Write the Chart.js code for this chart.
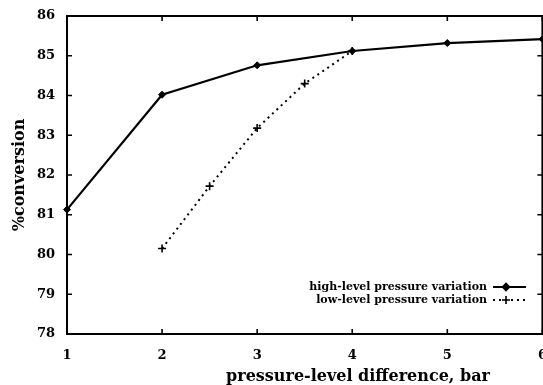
<!DOCTYPE html>
<html><head><meta charset="utf-8">
<script src="https://cdn.jsdelivr.net/npm/chart.js@4.4.0/dist/chart.umd.min.js"></script>
<style>html,body{margin:0;padding:0;background:#fff;overflow:hidden;}#wrap{width:543px;height:385px;overflow:hidden;}canvas{display:block;}</style>
</head><body><div id="wrap"><canvas id="c" width="548" height="385" style="width:548px;height:385px"></canvas></div>
<script>
const xTicks = [1, 2, 3, 4, 5, 6];
const yTicks = [78, 79, 80, 81, 82, 83, 84, 85, 86];
const highX = [1, 2, 3, 4, 5, 6];
const highY = [81.13, 84.02, 84.76, 85.12, 85.32, 85.42];
const lowX = [2, 2.5, 3, 3.5, 4];
const lowY = [80.15, 81.72, 83.18, 84.30, 85.12];
const seriesNames = ['high-level pressure variation', 'low-level pressure variation'];
const xTitle = 'pressure-level difference, bar';
const yTitle = '%conversion';

const FONT = '"DejaVu Serif", "Liberation Serif", serif';

function pts(xs, ys) { return xs.map((x, i) => ({x: x, y: ys[i]})); }

const framePlugin = {
  id: 'frame',
  afterDraw(chart) {
    const ctx = chart.ctx;
    const a = chart.chartArea;
    const xs = chart.scales.x, ys = chart.scales.y;
    ctx.save();
    ctx.strokeStyle = '#000';
    ctx.lineWidth = 2;
    ctx.strokeRect(a.left, a.top, a.right - a.left, a.bottom - a.top);
    ctx.lineWidth = 1.6;
    const tl = 5;
    ctx.beginPath();
    xTicks.forEach(v => {
      const px = xs.getPixelForValue(v);
      ctx.moveTo(px, a.bottom); ctx.lineTo(px, a.bottom - tl);
      ctx.moveTo(px, a.top); ctx.lineTo(px, a.top + tl);
    });
    yTicks.forEach(v => {
      const py = ys.getPixelForValue(v);
      ctx.moveTo(a.left, py); ctx.lineTo(a.left + tl, py);
      ctx.moveTo(a.right, py); ctx.lineTo(a.right - tl, py);
    });
    ctx.stroke();

    // titles
    ctx.fillStyle = '#000';
    ctx.font = 'bold 16px ' + FONT;
    ctx.textAlign = 'center';
    ctx.textBaseline = 'middle';
    ctx.fillText(xTitle, 358, 377);
    ctx.save();
    ctx.translate(20, (a.top + a.bottom) / 2);
    ctx.rotate(-Math.PI / 2);
    ctx.fillText(yTitle, 0, 0);
    ctx.restore();

    // legend
    ctx.font = 'bold 11px ' + FONT;
    ctx.textAlign = 'right';
    const rows = [287, 300];
    chart.data.datasets.forEach((ds, i) => {
      const y = rows[i];
      ctx.fillText(ds.label, 487, y);
      ctx.save();
      ctx.lineWidth = ds.borderWidth;
      ctx.setLineDash(ds.borderDash || []);
      ctx.beginPath(); ctx.moveTo(493, y); ctx.lineTo(526, y); ctx.stroke();
      ctx.restore();
      Chart.helpers.drawPoint(ctx, {pointStyle: ds.pointStyle, radius: ds.pointRadius, borderWidth: ds.pointBorderWidth, rotation: 0}, 506, y);
      if (ds.pointStyle === 'rectRot') { ctx.fill(); }
    });
    ctx.restore();
  }
};

new Chart(document.getElementById('c'), {
  type: 'scatter',
  data: {
    datasets: [
      {
        label: seriesNames[0],
        data: pts(highX, highY),
        showLine: true,
        borderColor: '#000',
        backgroundColor: '#000',
        borderWidth: 2.2,
        pointStyle: 'rectRot',
        pointRadius: 3.5,
        pointBorderWidth: 1,
        pointBackgroundColor: '#000',
        clip: false
      },
      {
        label: seriesNames[1],
        data: pts(lowX, lowY),
        showLine: true,
        borderColor: '#000',
        backgroundColor: '#000',
        borderWidth: 2,
        borderDash: [2, 4],
        pointStyle: 'cross',
        pointRadius: 4,
        pointBorderWidth: 1.6,
        clip: false
      }
    ]
  },
  options: {
    responsive: false,
    animation: false,
    devicePixelRatio: 1,
    layout: {padding: {top: 16, right: 0, left: 0, bottom: 0}},
    plugins: {legend: {display: false}, tooltip: {enabled: false}},
    scales: {
      x: {
        type: 'linear', min: 1, max: 6,
        afterBuildTicks: s => { s.ticks = xTicks.map(v => ({value: v})); },
        grid: {display: false, drawTicks: false},
        border: {display: false},
        ticks: {color: '#000', font: {family: FONT, size: 13, weight: 'bold'}, padding: 14, maxRotation: 0, autoSkip: false},
        afterFit: s => { s.height = 51; s.paddingLeft = 0; s.paddingRight = 0; }
      },
      y: {
        type: 'linear', min: 78, max: 86,
        afterBuildTicks: s => { s.ticks = yTicks.map(v => ({value: v})); },
        grid: {display: false, drawTicks: false},
        border: {display: false},
        ticks: {color: '#000', font: {family: FONT, size: 13, weight: 'bold'}, padding: 12},
        afterFit: s => { s.width = 67; s.paddingTop = 0; s.paddingBottom = 0; }
      }
    }
  },
  plugins: [framePlugin]
});
</script>
</body></html>
